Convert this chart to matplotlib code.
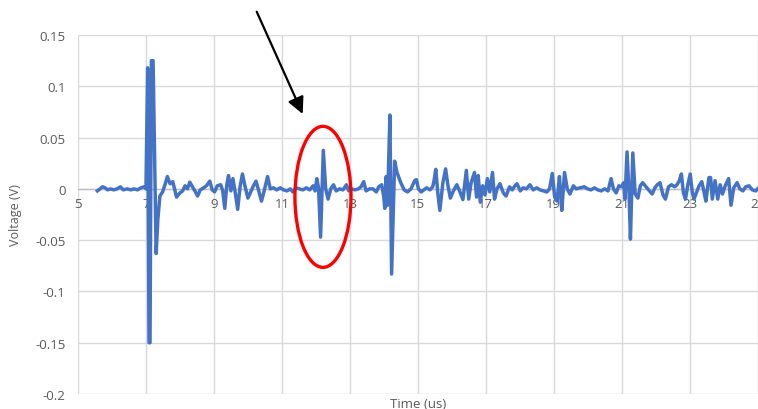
import matplotlib
matplotlib.use("Agg")
import matplotlib.pyplot as plt
from matplotlib.patches import Ellipse

# waveform (time in us, voltage in V)
time_us = [5.57, 5.65, 5.72, 5.80, 5.87, 5.95, 6.05, 6.15, 6.25, 6.33, 6.45, 6.55, 6.65, 6.75, 6.85, 6.95,
           7.00, 7.05, 7.09, 7.12, 7.16, 7.21, 7.30, 7.35, 7.41, 7.49, 7.56, 7.63, 7.71, 7.79, 7.90,
           8.00, 8.08, 8.15, 8.22, 8.29, 8.37, 8.44, 8.52, 8.60, 8.70, 8.78, 8.88, 8.95,
           9.02, 9.10, 9.20, 9.26, 9.32, 9.38, 9.43, 9.50, 9.56, 9.63, 9.70, 9.77, 9.84, 9.92,
           10.00, 10.07, 10.15, 10.24, 10.32, 10.40, 10.48, 10.58, 10.66, 10.75, 10.85, 10.95,
           11.05, 11.15, 11.25, 11.32, 11.42, 11.52, 11.62, 11.72, 11.82, 11.92, 11.98,
           12.03, 12.08, 12.14, 12.22, 12.29, 12.36, 12.44, 12.52, 12.60, 12.70, 12.80, 12.90, 12.97,
           13.05, 13.15, 13.25, 13.33, 13.41, 13.48, 13.58, 13.68, 13.78, 13.85, 13.94,
           14.00, 14.03, 14.07, 14.11, 14.18, 14.23, 14.32, 14.39, 14.50, 14.60, 14.70, 14.80, 14.91, 14.96,
           15.02, 15.10, 15.18, 15.26, 15.36, 15.44, 15.48, 15.53, 15.59, 15.65, 15.74, 15.82, 15.89, 15.96,
           16.05, 16.15, 16.23, 16.33, 16.43, 16.50, 16.57, 16.67, 16.73, 16.78, 16.84, 16.91, 16.98,
           17.05, 17.12, 17.20, 17.26, 17.33, 17.42, 17.52, 17.60, 17.70, 17.78, 17.86, 17.92,
           18.02, 18.10, 18.20, 18.30, 18.40, 18.50, 18.60, 18.70, 18.80, 18.88, 18.96,
           19.03, 19.10, 19.17, 19.21, 19.24, 19.32, 19.40, 19.48, 19.58, 19.66, 19.78, 19.90,
           20.00, 20.10, 20.20, 20.30, 20.40, 20.50, 20.60, 20.69, 20.76, 20.84, 20.92,
           21.00, 21.06, 21.10, 21.16, 21.22, 21.26, 21.33, 21.40, 21.48, 21.55, 21.62, 21.72, 21.82, 21.90, 21.98,
           22.05, 22.13, 22.22, 22.29, 22.38, 22.47, 22.56, 22.63, 22.70, 22.76, 22.82, 22.88, 22.95,
           23.02, 23.08, 23.13, 23.20, 23.28, 23.36, 23.42, 23.48, 23.57, 23.62, 23.67, 23.75, 23.83, 23.90, 23.97,
           24.05, 24.15, 24.22, 24.30, 24.40, 24.48, 24.57, 24.65, 24.75, 24.85, 24.95, 25.00]

voltage_v = [-0.002, 0.000, 0.002, 0.001, -0.001, 0.000, -0.001, 0.000, 0.002, -0.001, 0.000, -0.001, 0.000, -0.001, 0.001, 0.002,
             0.000, 0.118, -0.150, -0.150, 0.125, 0.125, -0.063, -0.030, -0.007, -0.003, 0.004, 0.012, 0.005, 0.007, -0.008,
             -0.004, -0.002, 0.003, 0.000, 0.0065, 0.002, -0.002, -0.007, -0.001, 0.001, 0.003, 0.0075, -0.001,
             -0.003, 0.003, 0.004, -0.002, -0.019, 0.004, 0.013, -0.002, 0.010, -0.004, -0.020, 0.002, 0.0145, 0.002,
             -0.009, -0.004, 0.002, 0.0075, -0.002, -0.012, -0.002, 0.012, 0.000, 0.001, -0.001, 0.001,
             -0.001, -0.002, 0.000, -0.003, 0.001, 0.000, -0.001, 0.001, -0.001, 0.003, -0.002,
             0.010, 0.001, -0.047, 0.0375, 0.000, -0.010, 0.000, 0.004, -0.002, 0.000, -0.001, 0.004, -0.002,
             0.000, -0.001, 0.000, 0.002, 0.007, -0.002, 0.000, 0.000, -0.003, 0.002, 0.004,
             -0.008, -0.019, 0.012, -0.016, 0.072, -0.083, 0.027, 0.016, 0.006, -0.001, -0.003, 0.000, 0.008, 0.009,
             0.000, -0.003, -0.001, 0.001, -0.001, 0.002, 0.008, 0.019, -0.004, -0.021, 0.006, 0.0195, 0.003, -0.009,
             -0.002, 0.004, -0.002, -0.0105, 0.018, -0.010, 0.006, 0.016, -0.008, 0.013, -0.013, 0.003, -0.006,
             0.010, -0.003, 0.016, -0.010, 0.000, 0.005, -0.004, -0.007, 0.002, -0.001, 0.003, 0.005,
             -0.002, 0.001, 0.000, 0.004, -0.001, 0.001, -0.001, -0.002, -0.003, 0.000, 0.015,
             -0.008, -0.012, 0.012, -0.008, -0.021, 0.016, 0.000, -0.005, 0.003, 0.000, 0.001, 0.002,
             0.000, -0.001, 0.001, -0.001, -0.002, 0.000, -0.002, 0.010, 0.000, -0.004, 0.003,
             0.002, 0.006, -0.010, 0.036, -0.005, -0.049, 0.035, -0.005, -0.009, 0.003, 0.006, 0.002, -0.002, -0.005, 0.001,
             0.004, 0.006, -0.006, -0.010, 0.002, 0.004, 0.002, 0.004, 0.008, 0.0145, -0.004, -0.010, 0.004,
             0.0145, -0.003, -0.010, -0.004, 0.003, 0.007, -0.002, -0.012, 0.011, 0.011, -0.010, 0.008, -0.010, 0.004, -0.005,
             0.003, 0.010, -0.016, 0.001, 0.006, 0.000, -0.002, 0.002, 0.003, -0.001, -0.002, 0.000]

x_ticks = [5, 7, 9, 11, 13, 15, 17, 19, 21, 23, 25]
y_ticks = [-0.2, -0.15, -0.1, -0.05, 0, 0.05, 0.1, 0.15]
y_tick_labels = ['-0.2', '-0.15', '-0.1', '-0.05', '0', '0.05', '0.1', '0.15']

plt.rcParams["font.family"] = ["Open Sans", "DejaVu Sans"]
fig = plt.figure(figsize=(7.58, 4.10), dpi=100)
ax = fig.add_axes([78/758, 15/410, 679.5/758, 359/410])

ax.plot(time_us, voltage_v, '-', c='#4472C4', linewidth=2.5, solid_joinstyle='round', zorder=3)

ax.set_xlim(5, 25)
ax.set_ylim(-0.2, 0.15)
ax.set_xticks(x_ticks)
ax.set_yticks(y_ticks)
ax.set_yticklabels(y_tick_labels)
ax.grid(True, color='#D9D9D9', linewidth=1.0)
ax.set_axisbelow(True)

for s in ['top', 'right', 'left']:
    ax.spines[s].set_visible(False)
ax.spines['bottom'].set_position(('data', 0))
ax.spines['bottom'].set_color('#BFBFBF')
ax.spines['bottom'].set_linewidth(1.0)
ax.tick_params(axis='both', length=0, labelsize=9.5, colors='#595959')
ax.tick_params(axis='x', pad=6)
ax.tick_params(axis='y', pad=9)

fig.text(15/758, 1 - 215/410, 'Voltage (V)', rotation=90, ha='center', va='center',
         fontsize=9, color='#595959')
fig.text(418/758, 1 - 398/410, 'Time (us)', ha='center', va='top', fontsize=9.5, color='#595959')

# red ring round the small echo
ax.add_patch(Ellipse((12.21, -0.0078), 1.65, 0.1375, fill=False, ec='#FF0000', lw=2.4,
                     zorder=4, clip_on=False))

# black pointer arrow
ax.annotate('', xy=(302.7, 410 - 115), xycoords='figure pixels',
            xytext=(256.7, 410 - 12.7), textcoords='figure pixels',
            arrowprops=dict(arrowstyle='-|>', color='black', lw=1.6, mutation_scale=25,
                            shrinkA=0, shrinkB=0))

fig.savefig('out.png', dpi=100)
